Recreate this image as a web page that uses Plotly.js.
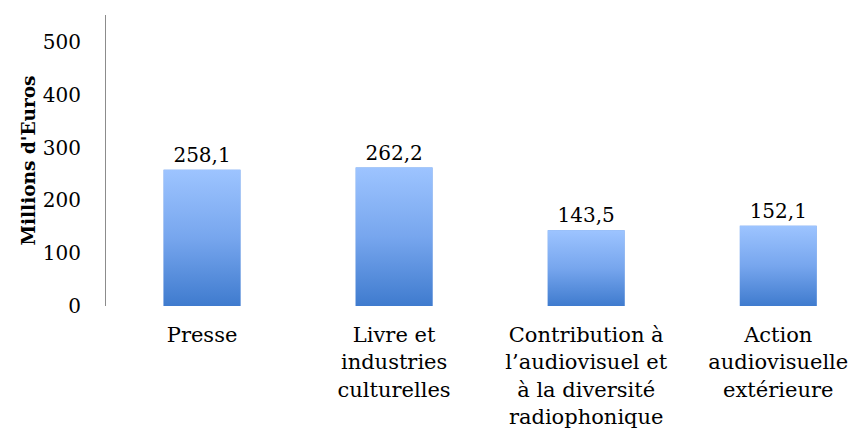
<!DOCTYPE html>
<html><head><meta charset="utf-8">
<script src="https://cdn.plot.ly/plotly-3.0.1.min.js"></script>
<style>html,body{margin:0;padding:0;background:#fff}</style>
</head><body>
<div id="chart" style="width:857px;height:428px"></div>
<script>
const categories = ["Presse", "Livre et<br>industries<br>culturelles", "Contribution à<br>l’audiovisuel et<br>à la diversité<br>radiophonique", "Action<br>audiovisuelle<br>extérieure"];
const values = [258.1, 262.2, 143.5, 152.1];
const yTicks = [0, 100, 200, 300, 400, 500];
const yTitle = "Millions d'Euros";

const positions = categories.map((c, i) => i);
const barWidth = 0.4;
const font = "DejaVu Serif, Liberation Serif, serif";

const traces = [{
  type: 'bar', x: positions, y: values, width: barWidth,
  marker: {color: '#6B9BE3', line: {width: 0}},
  texttemplate: '%{y:.1f}', textposition: 'outside', cliponaxis: false,
  textfont: {family: font, size: 20, color: '#000'},
  hoverinfo: 'skip', showlegend: false
}];
values.forEach((v, i) => {
  const l = positions[i] - barWidth / 2, r = positions[i] + barWidth / 2;
  traces.push({
    type: 'scatter', mode: 'lines', x: [l, r, r, l, l], y: [0, 0, v, v, 0],
    fill: 'toself', line: {width: 0, color: 'rgba(0,0,0,0)'},
    fillgradient: {type: 'vertical', colorscale: [[0, '#3F7BCE'], [0.5, '#77A6EE'], [1, '#9DC4FF']]},
    hoverinfo: 'skip', showlegend: false
  });
});

const layout = {
  width: 857, height: 428,
  margin: {l: 106, r: 0, t: 15, b: 122},
  paper_bgcolor: '#fff', plot_bgcolor: '#fff',
  separators: ', ',
  font: {family: font, color: '#000'},
  xaxis: {
    range: [-0.5, 3.41], tickvals: positions, ticktext: categories,
    showgrid: false, zeroline: false, showline: false, ticks: '',
    tickfont: {family: font, size: 21, color: '#000'}, ticklabelstandoff: 14,
    fixedrange: true
  },
  yaxis: {
    range: [0, 551], tickvals: yTicks, showgrid: false, zeroline: false,
    showline: true, linecolor: '#8c8c8c', linewidth: 1, ticks: '',
    ticklabelstandoff: 20,
    tickfont: {family: font, size: 20, color: '#000'},
    title: {text: '<b>' + yTitle + '</b>', font: {family: font, size: 18.5, color: '#000'}, standoff: 2},
    fixedrange: true
  },
  showlegend: false
};
Plotly.newPlot('chart', traces, layout, {staticPlot: true});
</script>
</body></html>
